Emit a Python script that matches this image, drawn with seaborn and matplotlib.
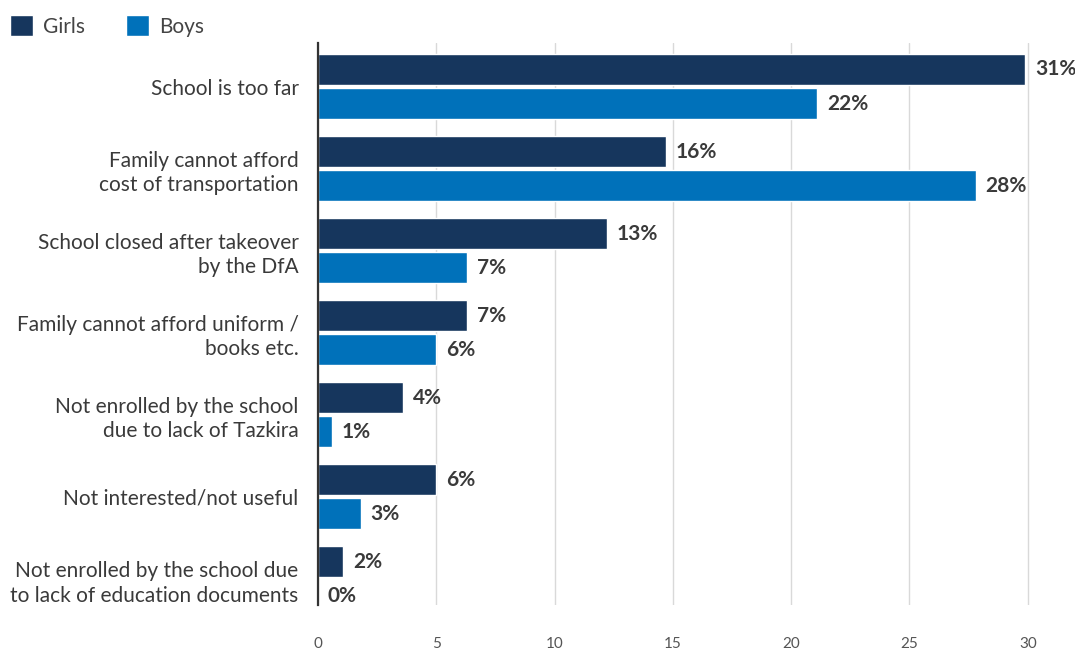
import pandas as pd
import matplotlib.pyplot as plt
import seaborn as sns

# reasons for not attending school, girls vs boys
reasons = [
    "School is too far",
    "Family cannot afford\ncost of transportation",
    "School closed after takeover\nby the DfA",
    "Family cannot afford uniform /\nbooks etc.",
    "Not enrolled by the school\ndue to lack of Tazkira",
    "Not interested/not useful",
    "Not enrolled by the school due\nto lack of education documents",
]
# bar lengths
girls = [29.9, 14.7, 12.2, 6.3, 3.6, 5.0, 1.06]
boys = [21.1, 27.8, 6.3, 5.0, 0.6, 1.8, 0.0]
# printed value labels
girls_labels = ["31%", "16%", "13%", "7%", "4%", "6%", "2%"]
boys_labels = ["22%", "28%", "7%", "6%", "1%", "3%", "0%"]
x_ticks = [0, 5, 10, 15, 20, 25, 30]

df = pd.DataFrame({
    "reason": reasons * 2,
    "value": girls + boys,
    "group": ["Girls"] * len(reasons) + ["Boys"] * len(reasons),
})

sns.set_style("white")
plt.rcParams["font.family"] = ["Lato", "DejaVu Sans"]

fig = plt.figure(figsize=(10.75, 6.5), dpi=100)
ax = fig.add_axes([0.2958, 0.0692, 0.6977, 0.8646])

sns.barplot(data=df, y="reason", x="value", hue="group",
            palette={"Girls": "#16365d", "Boys": "#0071ba"},
            width=0.83, gap=0.09, orient="h", ax=ax, saturation=1)

ax.set_xlim(0, 31.7)
ax.set_ylim(6.32, -0.53)
ax.set_xticks(x_ticks)
ax.set_xticklabels([str(t) for t in x_ticks])
ax.xaxis.grid(True, color="#d9d9d9", linewidth=1)
ax.set_axisbelow(True)
ax.set_xlabel("")
ax.set_ylabel("")

for s in ["top", "right", "bottom"]:
    ax.spines[s].set_visible(False)
ax.spines["left"].set_color("#333333")
ax.spines["left"].set_linewidth(1.6)
ax.spines["left"].set_zorder(5)

ax.tick_params(axis="x", length=0, labelsize=11, labelcolor="#555555", pad=23)
ax.tick_params(axis="y", length=0, labelsize=15, labelcolor="#3a3a3a", pad=14)
for t in ax.get_yticklabels():
    t.set_linespacing(1.3)

for cont, labs in zip(ax.containers, [girls_labels, boys_labels]):
    ax.bar_label(cont, labels=labs, padding=7, fontsize=15,
                 fontweight="bold", color="#3a3a3a", clip_on=False)

sns.move_legend(ax, "upper left", bbox_to_anchor=(0.002, 0.99),
                bbox_transform=fig.transFigure, borderaxespad=0,
                ncol=2, frameon=False, title=None, fontsize=15,
                handlelength=1.1, handleheight=1.2, columnspacing=2.0,
                handletextpad=0.45, labelcolor="#444444")

fig.savefig("out.png", dpi=100)
